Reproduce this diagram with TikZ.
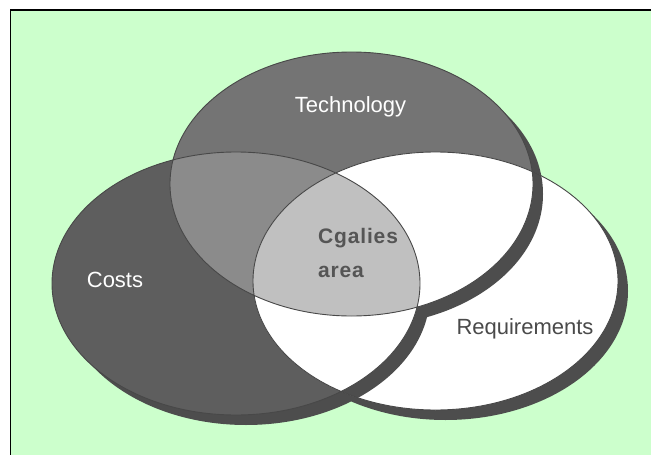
\documentclass[tikz,border=0pt]{standalone}
\usepackage{fontspec}
\setmainfont{Liberation Sans}
\newfontfamily\spacedfont[LetterSpace=4.0]{Liberation Sans}
\definecolor{paper}{HTML}{CCFFCC}
\definecolor{shadowgray}{HTML}{4D4D4D}
\definecolor{costsgray}{HTML}{5E5E5E}
\definecolor{techgray}{HTML}{747474}
\definecolor{overlapgray}{HTML}{8B8B8B}
\definecolor{coregray}{HTML}{C0C0C0}
\definecolor{linegray}{HTML}{484848}
\definecolor{reqtext}{HTML}{4A4A4A}
\definecolor{coretext}{HTML}{555555}
\tikzstyle{venntext}=[inner sep=0pt, font=\fontsize{22}{22}\selectfont]
\tikzstyle{ringline}=[draw=linegray, line width=0.9pt]
\newcommand{\techring}{(tech) ellipse [x radius=181.5pt, y radius=132pt]}
\newcommand{\costsring}{(costs) ellipse [x radius=184pt, y radius=131.5pt]}
\newcommand{\reqring}{(req) ellipse [x radius=182.5pt, y radius=129pt]}
\newcommand{\techshade}{([shift={(10,10)}]tech) ellipse [x radius=181.5pt, y radius=132pt]}
\newcommand{\costsshade}{([shift={(10,10)}]costs) ellipse [x radius=184pt, y radius=131.5pt]}
\newcommand{\reqshade}{([shift={(10,10)}]req) ellipse [x radius=182.5pt, y radius=129pt]}
\begin{document}
\begin{tikzpicture}[x=1pt, y=-1pt]
    \useasboundingbox (0,0) rectangle (651,455);
    \clip (0,0) rectangle (651,455);
    \fill[white] (0,0) rectangle (651,455);
    \draw[fill=paper, line width=1.8pt] (10.5,10) rectangle (680,480);
    \coordinate (tech) at (351.5,184);
    \coordinate (costs) at (236,283.5);
    \coordinate (req) at (435.5,281);
    % shadows first, then the three fills
    \fill[shadowgray] \techshade \costsshade \reqshade;
    \fill[costsgray] \costsring;
    \fill[techgray] \techring;
    \begin{scope}
        \clip \techring;
        \fill[overlapgray] \costsring;
    \end{scope}
    \fill[white] \reqring;
    \begin{scope}
        \clip \reqring;
        \fill[shadowgray] \techshade \costsshade;
        \fill[white] \techring \costsring;
        \clip \techring;
        \fill[coregray] \costsring;
    \end{scope}
    \draw[ringline] \costsring \techring \reqring;
    % labels
    \node[venntext, text=white, anchor=base] (technology) at (350.5,112) {Technology};
    \node[venntext, text=white, anchor=base] (costslabel) at (115,287) {Costs};
    \node[venntext, text=reqtext, anchor=base] (requirements) at (525,334) {Requirements};
    \node[venntext, text=coretext, anchor=west, align=left, font=\spacedfont\bfseries\fontsize{21}{34}\selectfont] (cgalies) at (318,252.5) {Cgalies\\area};
\end{tikzpicture}
\end{document}
